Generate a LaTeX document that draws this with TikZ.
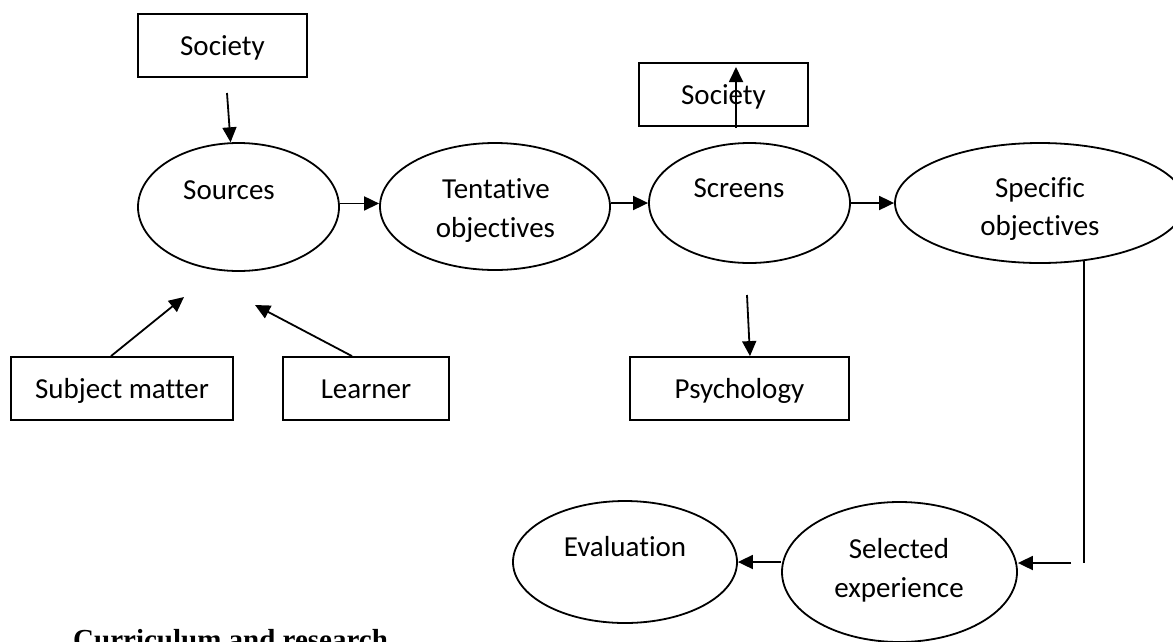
\documentclass[tikz,border=0pt]{standalone}
\usepackage{fontspec}
\setmainfont{Carlito}[Ligatures={NoCommon}]
\newfontfamily\headfont{Liberation Serif}
\usetikzlibrary{arrows.meta,shapes.geometric,calc}

\tikzset{
  every node/.style={font=\fontsize{29}{38}\selectfont},
  oval/.style={draw, ellipse, line width=1.8pt, inner sep=0pt},
  box/.style={draw, rectangle, line width=1.8pt, inner sep=0pt,
              minimum height=63pt, text height=19pt, text depth=0pt},
  lbl/.style={anchor=base, inner sep=0pt},
  arr/.style={line width=1.8pt, -{Triangle[length=15pt,width=14pt]}},
  plain/.style={line width=1.8pt}
}

\begin{document}
\begin{tikzpicture}[x=1pt,y=-1pt]
  \useasboundingbox (0,0) rectangle (1173,641);

  % ---- boxes ----
  \node[box, minimum width=169pt] (soc1) at (222.5,45.5) {Society};
  \node[box, minimum width=169pt] (soc2) at (723.5,94.5) {Society};
  \node[box, minimum width=222pt] (subj) at (122,388.5) {Subject matter};
  \node[box, minimum width=166pt] (lrn)  at (366,388.5) {Learner};
  \node[box, minimum width=219pt] (psy)  at (739.5,388.5) {Psychology};

  % ---- ellipses ----
  \node[oval, minimum width=201pt, minimum height=128pt] (src)  at (238.5,207) {};
  \node[oval, minimum width=230pt, minimum height=127pt] (ten)  at (495,206.5) {};
  \node[oval, minimum width=201pt, minimum height=120pt] (scr)  at (749.5,203) {};
  \node[oval, minimum width=290pt, minimum height=120pt] (spec) at (1040,203) {};
  \node[oval, minimum width=235pt, minimum height=140pt] (sel)  at (899.5,572) {};
  \node[oval, minimum width=224pt, minimum height=122pt] (eval) at (625,562) {};

  % ---- ellipse labels ----
  \node[lbl] (srcT)  at (229,199)   {Sources};
  \node[lbl] (tenA)  at (496,198)   {Tentative};
  \node[lbl] (tenB)  at (495.5,237) {objectives};
  \node[lbl] (scrT)  at (739,197)   {Screens};
  \node[lbl] (specA) at (1040,197)  {Specific};
  \node[lbl] (specB) at (1040,235)  {objectives};
  \node[lbl] (selA)  at (899,558)   {Selected};
  \node[lbl] (selB)  at (899,597)   {experience};
  \node[lbl] (evalT) at (625,556)   {Evaluation};

  % ---- free ends of connectors ----
  \coordinate (s1a) at (227,93);
  \coordinate (s2a) at (736,128);
  \coordinate (s2b) at (736,67);
  \coordinate (pa)  at (747,295);
  \coordinate (sma) at (184,297);
  \coordinate (lra) at (255,305);
  \coordinate (vEnd) at (1082,563);
  \coordinate (hA)  at (1071,563);

  % ---- connectors ----
  \draw[arr] (s1a) -- (src.97.6);
  \draw[arr] (src.2) -- (ten.west |- src.2);
  \draw[arr] (scr.west -| ten.east) -- (scr.west);
  \draw[arr] (scr.east) -- (spec.west);
  \draw[arr] (s2a) -- (s2b);
  \draw[arr] (pa) -- ($(psy.north)+(10.5,0)$);
  \draw[arr] ($(subj.north)+(-11,0)$) -- (sma);
  \draw[arr] ($(lrn.north)+(-14,0)$) -- (lra);
  \draw[plain] (spec.-53.6) -- (spec.-53.6 |- vEnd);
  \draw[arr] (hA) -- (hA -| sel.east);
  \draw[arr] (sel.west |- eval.east) -- (eval.east);

  % ---- heading below the chart ----
  \node[anchor=base west, inner sep=0pt, font=\headfont\bfseries\fontsize{29}{35}\selectfont]
    (head) at (73,649) {Curriculum and research};
\end{tikzpicture}
\end{document}
